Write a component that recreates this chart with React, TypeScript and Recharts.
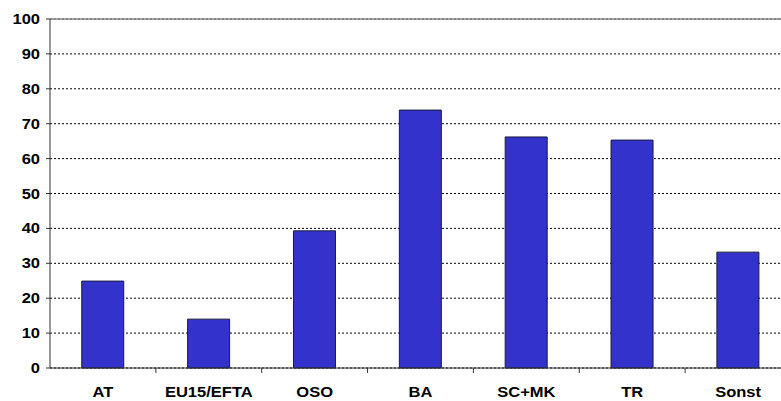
import React from 'react';
import { BarChart, Bar, XAxis, YAxis, CartesianGrid, ReferenceLine } from 'recharts';

const categories = ['AT', 'EU15/EFTA', 'OSO', 'BA', 'SC+MK', 'TR', 'Sonst'];
const values = [24.9, 14.0, 39.3, 73.9, 66.2, 65.3, 33.2];
const yTicks = [0, 10, 20, 30, 40, 50, 60, 70, 80, 90, 100];

const data = categories.map((name, i) => ({ name, value: values[i] }));

const FONT = '"Liberation Sans", Arial, sans-serif';
const BAND = 740.6 / categories.length;

// tick marks sit between categories, label under the bar
const XTick = (props: any) => {
    const { x, y, payload } = props;
    return (
        <g>
            <line x1={x + BAND / 2} y1={y} x2={x + BAND / 2} y2={y + 5} stroke="#333" />
            <text
                transform={`translate(${x},${y + 29}) scale(1.18,1)`}
                textAnchor="middle"
                fontFamily={FONT}
                fontWeight="bold"
                fontSize={14}
                fill="#000"
            >
                {payload.value}
            </text>
        </g>
    );
};

const YTick = (props: any) => {
    const { x, y, payload } = props;
    return (
        <text
            transform={`translate(${x},${y + 5}) scale(1.18,1)`}
            textAnchor="end"
            fontFamily={FONT}
            fontWeight="bold"
            fontSize={14}
            fill="#000"
        >
            {payload.value}
        </text>
    );
};

export default function App() {
    return (
        <div style={{ position: 'absolute', left: 0, top: 0, width: 781, height: 401, overflow: 'hidden', background: '#fff' }}>
            <BarChart
                width={791}
                height={401}
                data={data}
                margin={{ top: 19, right: 0, bottom: 0, left: 0 }}
                barCategoryGap="30%"
            >
                <CartesianGrid horizontal vertical={false} stroke="#000" strokeDasharray="2 2" />
                <ReferenceLine y={100} stroke="#888" strokeWidth={1.5} ifOverflow="visible" />
                <XAxis
                    dataKey="name"
                    height={33}
                    axisLine={{ stroke: '#333' }}
                    tickLine={false}
                    tickSize={0}
                    tickMargin={0}
                    tick={<XTick />}
                    interval={0}
                />
                <YAxis
                    width={50}
                    domain={[0, 100]}
                    ticks={yTicks}
                    interval={0}
                    axisLine={{ stroke: '#333' }}
                    tickLine={{ stroke: '#333' }}
                    tickSize={4}
                    tickMargin={6}
                    tick={<YTick />}
                />
                <Bar dataKey="value" fill="#3333CC" stroke="#1a1a40" strokeWidth={1} isAnimationActive={false} />
            </BarChart>
        </div>
    );
}
